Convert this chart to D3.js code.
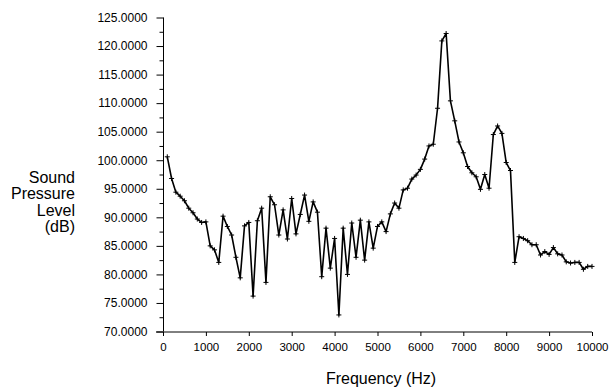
<!DOCTYPE html>
<html>
<head>
<meta charset="utf-8">
<script src="https://cdn.jsdelivr.net/npm/d3@7"></script>
<style>
  html, body { margin: 0; padding: 0; background: #fff; }
  svg { display: block; }
  text { font-family: Arial, "Liberation Sans", sans-serif; fill: #000; }
</style>
</head>
<body>
<svg id="chart" width="613" height="392"></svg>
<script>
// Frequencies (Hz)
const frequencies = [
  100,200,300,400,500,600,700,800,900,1000,
  1100,1200,1300,1400,1500,1600,1700,1800,1900,2000,
  2100,2200,2300,2400,2500,2600,2700,2800,2900,3000,
  3100,3200,3300,3400,3500,3600,3700,3800,3900,4000,
  4100,4200,4300,4400,4500,4600,4700,4800,4900,5000,
  5100,5200,5300,5400,5500,5600,5700,5800,5900,6000,
  6100,6200,6300,6400,6500,6600,6700,6800,6900,7000,
  7100,7200,7300,7400,7500,7600,7700,7800,7900,8000,
  8100,8200,8300,8400,8500,8600,8700,8800,8900,9000,
  9100,9200,9300,9400,9500,9600,9700,9800,9900,10000
];
// Sound pressure level (dB)
const splValues = [
  100.6,96.8,94.4,93.7,92.9,91.6,90.8,89.7,89.1,89.2,
  85.0,84.3,82.1,90.2,88.4,86.9,83.0,79.4,88.5,89.1,
  76.2,89.4,91.6,78.6,93.6,92.2,86.9,91.3,86.2,93.3,
  87.1,90.5,93.9,89.3,92.7,90.9,79.6,88.1,81.1,86.3,
  72.9,88.1,80.0,89.0,83.0,89.5,82.5,89.2,84.6,88.4,
  89.2,87.5,90.6,92.5,91.6,94.8,95.1,96.7,97.4,98.4,
  100.2,102.5,102.8,109.1,120.9,122.2,110.4,106.9,103.2,101.3,
  98.9,97.8,97.1,94.9,97.5,95.1,104.5,106.0,104.7,99.6,
  98.2,82.1,86.6,86.3,85.9,85.2,85.2,83.4,84.0,83.5,
  84.7,83.6,83.4,82.2,82.0,82.1,82.1,80.9,81.4,81.4
];
const xTicks = [0,1000,2000,3000,4000,5000,6000,7000,8000,9000,10000];
const yTicks = [70,75,80,85,90,95,100,105,110,115,120,125];
const yMinorTicks = [72.5,77.5,82.5,87.5,92.5,97.5,102.5,107.5,112.5,117.5,122.5];
const xTitle = "Frequency (Hz)";
const yTitleLines = ["Sound", "Pressure", "Level", "(dB)"];

const data = frequencies.map((f, i) => ({ f, v: splValues[i] }));

const svg = d3.select("#chart");
const pLeft = 163, pRight = 592, pTop = 17.5, pBottom = 331.5;

const x = d3.scaleLinear().domain([0, 10000]).range([pLeft, pRight]);
const y = d3.scaleLinear().domain([70, 125]).range([pBottom, pTop]);

// Y axis
const yAxis = d3.axisLeft(y).tickValues(yTicks).tickSize(7).tickPadding(9)
  .tickFormat(d => d.toFixed(4));
const gy = svg.append("g").attr("transform", `translate(${pLeft + 0.5},0)`).call(yAxis);
gy.select(".domain").attr("stroke", "#000").attr("d", `M0,${pTop}V${pBottom}`);
gy.selectAll(".tick line").attr("stroke", "#000");
gy.selectAll(".tick text").attr("font-size", "12px").attr("font-family", "Arial, 'Liberation Sans', sans-serif");

const yMinor = d3.axisLeft(y).tickValues(yMinorTicks).tickSize(4).tickFormat("");
const gym = svg.append("g").attr("transform", `translate(${pLeft + 0.5},0)`).call(yMinor);
gym.select(".domain").remove();
gym.selectAll(".tick line").attr("stroke", "#000");

// X axis
const xAxis = d3.axisBottom(x).tickValues(xTicks).tickSize(4).tickPadding(7)
  .tickFormat(d3.format("d"));
const gx = svg.append("g").attr("transform", `translate(0,${pBottom + 0.5})`).call(xAxis);
gx.select(".domain").attr("stroke", "#000").attr("d", `M${pLeft - 7},0H${pRight}`);
gx.selectAll(".tick line").attr("stroke", "#000");
gx.selectAll(".tick text").attr("font-size", "11.5px").attr("font-family", "Arial, 'Liberation Sans', sans-serif");

// Line
const line = d3.line().x(d => x(d.f)).y(d => y(d.v));
svg.append("path").datum(data)
  .attr("fill", "none").attr("stroke", "#000").attr("stroke-width", 1.6)
  .attr("stroke-linejoin", "round")
  .attr("d", line);

// Plus markers
const m = 2.5;
svg.append("g").selectAll("path").data(data).join("path")
  .attr("d", d => `M${x(d.f) - m},${y(d.v)}H${x(d.f) + m}M${x(d.f)},${y(d.v) - m}V${y(d.v) + m}`)
  .attr("stroke", "#000").attr("stroke-width", 1);

// Titles
svg.append("text").attr("x", 381).attr("y", 384).attr("text-anchor", "middle")
  .attr("font-size", "16px").text(xTitle);

svg.append("g").selectAll("text").data(yTitleLines).join("text")
  .attr("x", 75).attr("y", (d, i) => 183 + i * 16.3)
  .attr("text-anchor", "end").attr("font-size", "16px").text(d => d);
</script>
</body>
</html>
